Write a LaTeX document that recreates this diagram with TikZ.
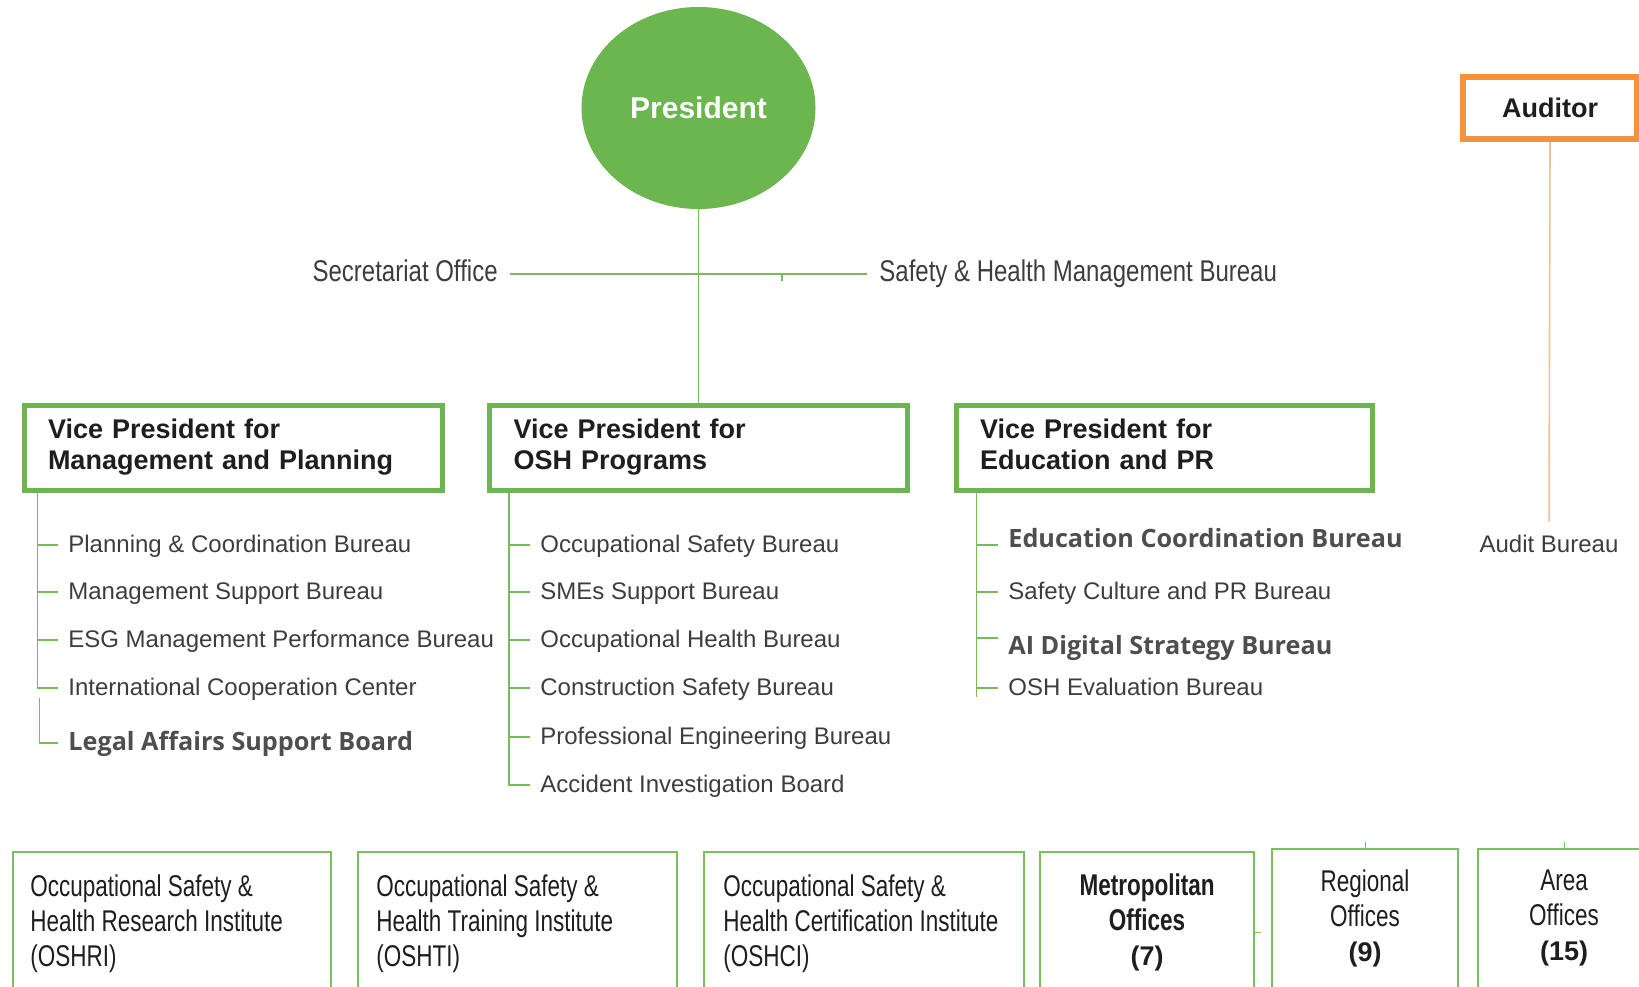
\documentclass[tikz,border=0pt]{standalone}
\usepackage{fontspec}
\setmainfont{Liberation Sans}
\newfontfamily\narrowfont[FakeStretch=0.75]{Liberation Sans}
\newfontfamily\topfont[FakeStretch=0.8]{Liberation Sans}
\newfontfamily\opensans{Open Sans}
\usetikzlibrary{shapes.geometric,shadows}
\definecolor{presgreen}{HTML}{6CB650}
\definecolor{vpgreen}{HTML}{6DB452}
\definecolor{boxgreen}{HTML}{7CBF5E}
\definecolor{linegreen}{HTML}{78BC5A}
\definecolor{audorange}{HTML}{F5923E}
\definecolor{audline}{HTML}{EBC39A}
\definecolor{listgrey}{HTML}{3D3D3D}
\definecolor{newgrey}{HTML}{4E4E4E}
\definecolor{darktext}{HTML}{1E1E1E}

\begin{document}
\begin{tikzpicture}[x=0.5pt,y=-0.5pt,
    vpbox/.style={draw=vpgreen, line width=2.5pt, fill=white, minimum height=42.5pt,
        inner xsep=12pt, align=left, text=darktext,
        font=\bfseries\fontsize{13.5}{15.5}\selectfont,
        drop shadow={shadow xshift=1.2pt, shadow yshift=-1.2pt, fill=black!35, opacity=0.35}},
    unit/.style={anchor=west, inner xsep=5pt, inner ysep=0pt, text height=0.85em, text depth=0.15em,
        font=\fontsize{12}{14}\selectfont, text=listgrey},
    newunit/.style={unit, font=\opensans\bfseries\fontsize{12.6}{15}\selectfont, text=newgrey},
    toplabel/.style={unit, inner xsep=6pt, font=\topfont\fontsize{15}{17}\selectfont},
    branch/.style={draw=linegreen, line width=0.8pt},
    org/.style={draw=boxgreen, line width=1.3pt},
    orgtext/.style={inner sep=0pt, text=darktext, font=\narrowfont\fontsize{15}{17.5}\selectfont}
]
\useasboundingbox (0,0) rectangle (1639,986);

% top level
\node[ellipse, fill=presgreen, minimum width=117pt, minimum height=101pt, text=white,
    font=\bfseries\fontsize{15}{17}\selectfont] (pres) at (698.5,108) {President};
\node[toplabel, anchor=east] (sec) at (510,274) {Secretariat Office};
\node[toplabel, anchor=west] (shm) at (867,274) {Safety \& Health Management Bureau};
\draw[branch] (sec.east) -- (shm.west);
\draw[branch] (782,274) -- (782,281);

\node[draw=audorange, line width=3pt, minimum width=87pt, minimum height=31pt, text=darktext,
    font=\bfseries\fontsize{13.5}{16}\selectfont] (aud) at (1550,108) {Auditor};
\node[unit, anchor=center] (audb) at (1549,545) {Audit Bureau};
\draw[draw=audline, line width=0.8pt, shorten >=6.5pt] (aud.south) -- (audb.north);

% vice presidents
\node[vpbox, text width=185pt] (vpmp) at (233,447.5) {Vice President for\\Management and Planning};
\node[vpbox, text width=185pt] (vposh) at (698.5,447.5) {Vice President for\\OSH Programs};
\node[vpbox, text width=184pt] (vpedu) at (1164,447.5) {Vice President for\\Education and PR\vphantom{g}};
\draw[branch] (pres.south) -- (vposh.north);

% management and planning
\coordinate (mptrunk) at ([xshift=8pt]vpmp.south west);
\node[unit] (pcb) at (58,545) {Planning \& Coordination Bureau};
\node[unit] (msb) at (58,592) {Management Support Bureau};
\node[unit] (esg) at (58,640) {ESG Management Performance Bureau};
\node[unit] (icc) at (58,688) {International Cooperation Center};
\node[newunit] (lasb) at (58,743) {Legal Affairs Support Board};
\draw[branch] (mptrunk) -- (mptrunk |- icc.west) -- (icc.west);
\draw[branch] (mptrunk |- pcb.west) -- (pcb.west);
\draw[branch] (mptrunk |- msb.west) -- (msb.west);
\draw[branch] (mptrunk |- esg.west) -- (esg.west);
\draw[branch] ([xshift=1pt,yshift=-5pt]mptrunk |- icc.west) -- ([xshift=1pt]mptrunk |- lasb.west) -- (lasb.west);

% OSH programs
\coordinate (oshtrunk) at ([xshift=11pt]vposh.south west);
\node[unit] (osb) at (530,545) {Occupational Safety Bureau};
\node[unit] (sme) at (530,592) {SMEs Support Bureau};
\node[unit] (ohb) at (530,640) {Occupational Health Bureau};
\node[unit] (csb) at (530,688) {Construction Safety Bureau};
\node[unit] (peb) at (530,737) {Professional Engineering Bureau};
\node[unit] (aib) at (530,785) {Accident Investigation Board};
\draw[branch] (oshtrunk) -- (oshtrunk |- aib.west) -- (aib.west);
\draw[branch] (oshtrunk |- osb.west) -- (osb.west);
\draw[branch] (oshtrunk |- sme.west) -- (sme.west);
\draw[branch] (oshtrunk |- ohb.west) -- (ohb.west);
\draw[branch] (oshtrunk |- csb.west) -- (csb.west);
\draw[branch] (oshtrunk |- peb.west) -- (peb.west);

% education and PR
\coordinate (edutrunk) at ([xshift=11.5pt]vpedu.south west);
\node[newunit] (ecb) at (998,540) {Education Coordination Bureau};
\node[unit] (scp) at (998,592) {Safety Culture and PR Bureau};
\node[newunit] (ads) at (998,647) {AI Digital Strategy Bureau};
\node[unit] (oeb) at (998,688) {OSH Evaluation Bureau};
\draw[branch] (edutrunk) -- ([yshift=-4.5pt]edutrunk |- oeb.west);
\draw[branch] ([yshift=-2.5pt]edutrunk |- ecb.west) -- ([yshift=-2.5pt]ecb.west);
\draw[branch] (edutrunk |- scp.west) -- (scp.west);
\draw[branch] ([yshift=4.5pt]edutrunk |- ads.west) -- ([yshift=4.5pt]ads.west);
\draw[branch] (edutrunk |- oeb.west) -- (oeb.west);

% institutes and offices
\node[org, minimum width=159pt, minimum height=74pt] (oshri) at (172,926) {};
\node[org, minimum width=159.5pt, minimum height=74pt] (oshti) at (517.5,926) {};
\node[org, minimum width=160pt, minimum height=74pt] (oshci) at (864,926) {};
\node[org, minimum width=107pt, minimum height=74pt] (metro) at (1147,926) {};
\node[org, minimum width=93pt, minimum height=76pt] (region) at (1365,925) {};
\node[org, minimum width=91pt, minimum height=76pt] (area) at (1569,925) {};

\node[orgtext, anchor=north west, align=left] (oshrit) at (30,874) {Occupational Safety \&\\Health Research Institute\\(OSHRI)};
\node[orgtext, anchor=north west, align=left] (oshtit) at (376,874) {Occupational Safety \&\\Health Training Institute\\(OSHTI)};
\node[orgtext, anchor=north west, align=left] (oshcit) at (723,874) {Occupational Safety \&\\Health Certification Institute\\(OSHCI)};
\node[orgtext, anchor=north, align=center, font=\narrowfont\bfseries\fontsize{15}{17.5}\selectfont] (metrot) at (1147,873)
    {Metropolitan\\Offices\\{\normalfont\bfseries\fontsize{13.5}{17.5}\selectfont (7)}};
\node[orgtext, anchor=north, align=center] (regiont) at (1365,869)
    {Regional\\Offices\\{\normalfont\bfseries\fontsize{13.5}{17.5}\selectfont (9)}};
\node[orgtext, anchor=north, align=center] (areat) at (1564,869)
    {Area\\Offices\\{\normalfont\bfseries\fontsize{13.5}{17.5}\selectfont (15)}};

\draw[draw=boxgreen, line width=0.5pt] (region.north) -- ++(0,-6);
\draw[draw=boxgreen, line width=0.5pt] ([xshift=-2.5pt]area.north) -- ++(0,-6);
\draw[draw=boxgreen, line width=0.5pt] ([yshift=-3pt]metro.east) -- ++(6,0);
\end{tikzpicture}
\end{document}
